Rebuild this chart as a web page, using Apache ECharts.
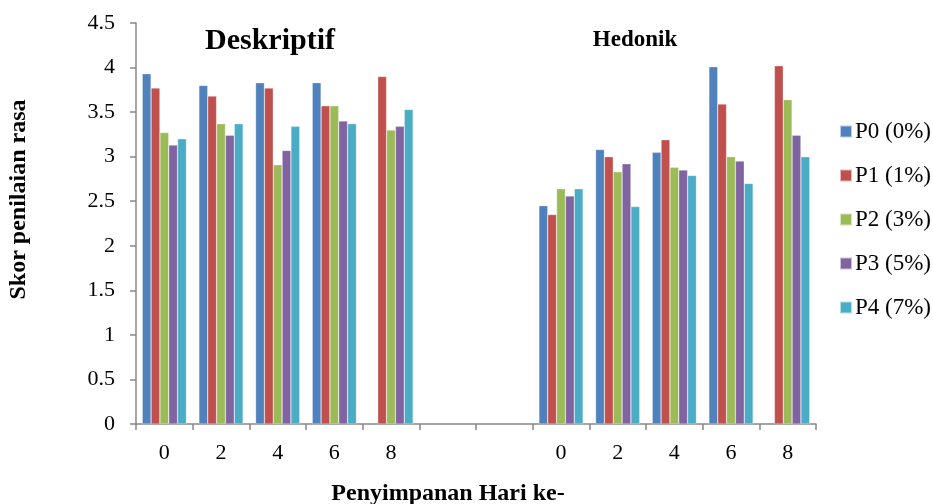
<!DOCTYPE html>
<html><head><meta charset="utf-8">
<script src="https://cdn.jsdelivr.net/npm/echarts@6/dist/echarts.min.js"></script>
<style>html,body{margin:0;padding:0;background:#fff}#c{width:933px;height:504px}</style>
</head><body><div id="c"></div>
<script>
var categories = ['0','2','4','6','8','','','0','2','4','6','8'];
var seriesNames = ['P0 (0%)','P1 (1%)','P2 (3%)','P3 (5%)','P4 (7%)'];
var colors = ['#4F81BD','#C0504D','#9BBB59','#8064A2','#4BACC6'];
var P0 = [3.93,3.80,3.83,3.83,null,null,null,2.45,3.08,3.05,4.01,null];
var P1 = [3.77,3.68,3.77,3.57,3.90,null,null,2.35,3.00,3.19,3.59,4.02];
var P2 = [3.27,3.37,2.91,3.57,3.30,null,null,2.64,2.83,2.88,3.00,3.64];
var P3 = [3.13,3.24,3.07,3.40,3.34,null,null,2.56,2.92,2.85,2.95,3.24];
var P4 = [3.20,3.37,3.34,3.37,3.53,null,null,2.64,2.44,2.79,2.70,3.00];
var yTicks = ['0','0.5','1','1.5','2','2.5','3','3.5','4','4.5'];
var groupTitles = ['Deskriptif','Hedonik'];
var font = '"Liberation Serif","Times New Roman",serif';
var data = [P0,P1,P2,P3,P4];
var chart = echarts.init(document.getElementById('c'));
chart.setOption({
  animation:false,
  color:colors,
  textStyle:{fontFamily:font},
  title:[
    {text:groupTitles[0],left:265,top:21,textAlign:'center',textStyle:{fontFamily:font,fontSize:30,fontWeight:'bold',color:'#000'}},
    {text:groupTitles[1],left:630,top:24,textAlign:'center',textStyle:{fontFamily:font,fontSize:23,fontWeight:'bold',color:'#000'}}
  ],
  legend:{orient:'vertical',left:834,top:115,itemWidth:12,itemHeight:12,itemGap:21,icon:'rect',
    textStyle:{fontFamily:font,fontSize:23,color:'#000',padding:[0,0,0,-2]}},
  grid:{left:136,right:117,top:23,bottom:80,outerBoundsMode:'none',containLabel:false},
  xAxis:{type:'category',data:categories,
    name:'Penyimpanan Hari ke-',nameLocation:'middle',nameGap:58,
    nameTextStyle:{fontFamily:font,fontSize:24,fontWeight:'bold',color:'#000',padding:[0,56,0,0]},
    axisLine:{lineStyle:{color:'#888',width:1.5}},
    axisTick:{show:true,length:6,lineStyle:{color:'#888',width:1.5}},
    axisLabel:{fontFamily:font,fontSize:22,color:'#000',margin:18}},
  yAxis:{type:'value',min:0,max:4.5,interval:0.5,
    name:'Skor penilaian rasa',nameLocation:'middle',nameGap:105,
    nameTextStyle:{fontFamily:font,fontSize:24,fontWeight:'bold',color:'#000',padding:[0,0,0,48]},
    splitLine:{show:false},
    axisLine:{show:true,lineStyle:{color:'#888',width:1.5}},
    axisTick:{show:true,length:6,lineStyle:{color:'#888',width:1.5}},
    axisLabel:{fontFamily:font,fontSize:22,color:'#000',margin:21,
      formatter:function(v){var i=Math.round(v*2);return yTicks[i];}}},
  series:seriesNames.map(function(n,i){return {name:n,type:'bar',data:data[i],barGap:'0%',barCategoryGap:'22%',
    itemStyle:{color:colors[i],borderColor:'rgba(255,255,255,0.6)',borderWidth:0.5}};})
});
</script></body></html>
